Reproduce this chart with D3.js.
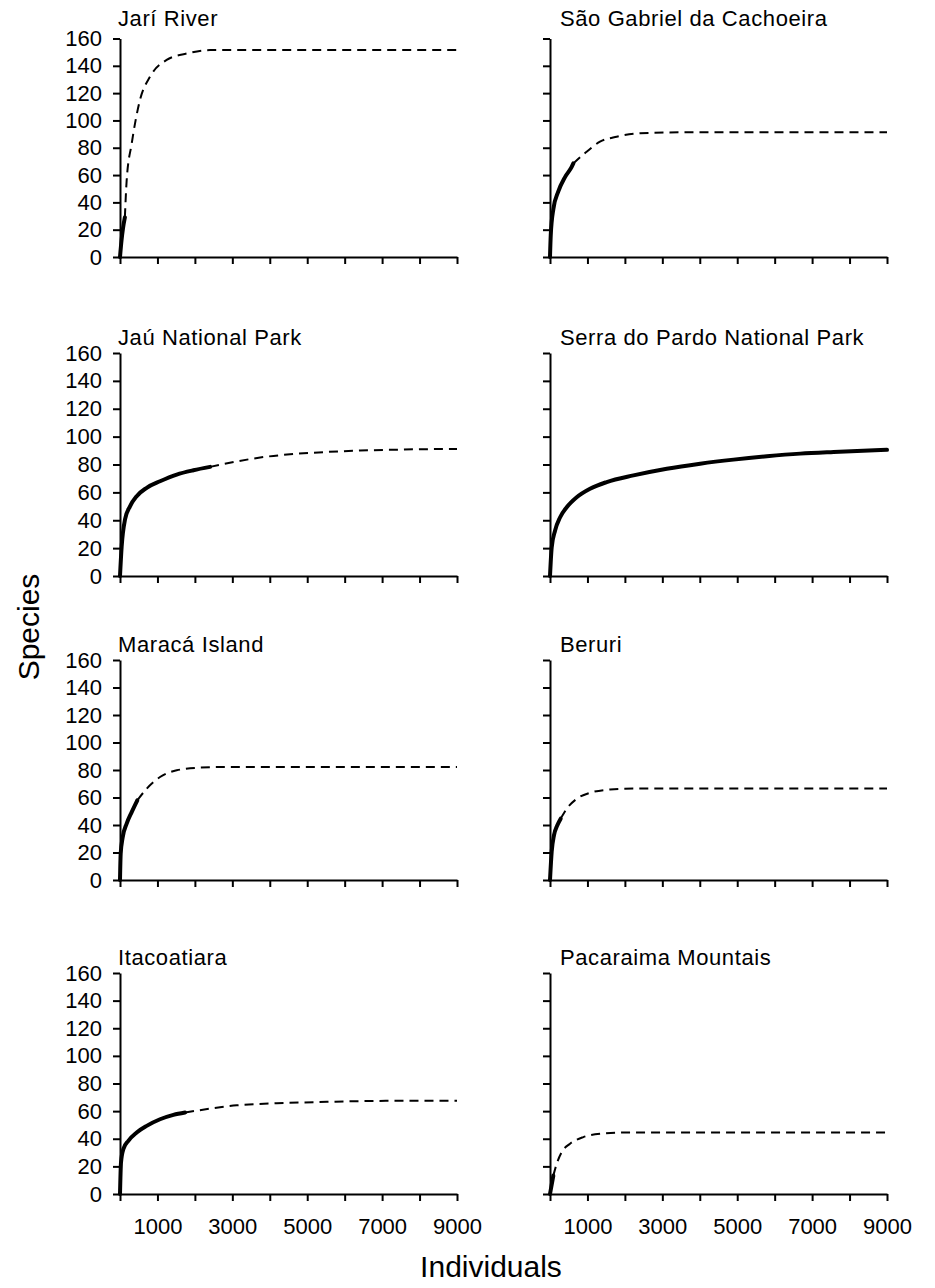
<!DOCTYPE html>
<html>
<head>
<meta charset="utf-8">
<script src="https://cdn.jsdelivr.net/npm/d3@7"></script>
<style>
  body { margin: 0; background: #fff; }
  svg text { font-family: "Liberation Sans", Arial, sans-serif; fill: #000; }
</style>
</head>
<body>
<div id="chart"></div>
<script>
// site names, in reading order (left col, right col, row by row)
var sites = ["Jarí River", "São Gabriel da Cachoeira",
             "Jaú National Park", "Serra do Pardo National Park",
             "Maracá Island", "Beruri",
             "Itacoatiara", "Pacaraima Mountais"];

// observed rarefaction curves [individuals, species] (solid)
var observed = [
  [[0,0],[40,12],[80,21],[130,29]],
  [[0,0],[20,16],[89,35],[222,48],[401,58.5],[579,66],[623,68.5]],
  [[0,0],[45,21.5],[134,40.6],[267,50],[446,57.3],[713,63.3],[1069,68],[1515,72.8],[1960,75.9],[2406,78.3]],
  [[0,0],[45,20.5],[134,32.5],[267,42],[446,49.3],[713,56.5],[1069,62.6],[1515,67.4],[2228,72.2],[3119,77],
   [4010,80.6],[4901,83.5],[5792,85.9],[6683,87.8],[7574,89],[9000,90.5]],
  [[0,0],[18,19],[71,31],[178,41],[312,49.4],[463,58]],
  [[0,0],[45,20.6],[107,32.6],[196,39.8],[285,44.6]],
  [[0,0],[27,22.9],[89,32.5],[223,38.5],[446,44.5],[713,49.3],[1069,54.1],[1426,57.3],[1738,59]],
  [[0,0],[89,13.3]]
];

// extrapolated curves (dashed), starting where the observed one stops
var extrapolated = [
  [[130,29],[178,56],[312,83],[534,115],[801,132],[1246,144.3],[1781,149],[2404,151.5],[3500,151.6],[9000,151.6]],
  [[623,68.5],[979,77.1],[1335,84.4],[1781,88.1],[2404,90.6],[3557,91.3],[9000,91.3]],
  [[2406,78.3],[3119,82.2],[3743,85],[4634,87.5],[5525,89],[6416,90],[7307,90.6],[8200,91],[9000,91.2]],
  [],
  [[463,58],[713,66.4],[1069,74.9],[1515,79.8],[2139,81.7],[2852,82.2],[9000,82.2]],
  [[285,44.6],[446,51.8],[713,59],[1069,63.4],[1604,65.8],[2228,66.5],[9000,66.5]],
  [[1738,59],[2406,61.8],[3119,64.2],[4188,65.7],[5525,66.7],[6861,67.4],[9000,67.6]],
  [[89,13.3],[178,21.8],[312,30.3],[535,36.4],[891,41.2],[1337,43.6],[2050,44.6],[9000,44.6]]
];

var yTicks = [0, 20, 40, 60, 80, 100, 120, 140, 160];
var xTicks = [0, 1000, 2000, 3000, 4000, 5000, 6000, 7000, 8000, 9000];
var xTickLabels = [1000, 3000, 5000, 7000, 9000];

var W = 935, H = 1288;
var colX = [120, 550];
var plotW = 337;
var rowTop = [38.5, 353, 660, 973];
var rowBottom = [257, 576, 880, 1194];
var titleBase = [26, 345, 652, 965];
var titleX = [118, 560];

var svg = d3.select("#chart").append("svg")
  .attr("width", W).attr("height", H);

sites.forEach(function(name, i) {
  var row = Math.floor(i / 2), col = i % 2;
  var x0 = colX[col];

  var x = d3.scaleLinear().domain([0, 9000]).range([x0, x0 + plotW]);
  var y = d3.scaleLinear().domain([0, 160]).range([rowBottom[row], rowTop[row]]);

  var g = svg.append("g");

  var line = d3.line()
    .x(function(d) { return x(d[0]); })
    .y(function(d) { return y(d[1]); })
    .curve(d3.curveMonotoneX);

  // y axis
  var ya = g.append("g")
    .attr("transform", "translate(" + x0 + ",0)")
    .call(d3.axisLeft(y).tickValues(yTicks).tickSize(7).tickSizeOuter(0).tickPadding(11)
      .tickFormat(function(d) { return col === 0 ? d : ""; }));

  // x axis
  var xa = g.append("g")
    .attr("transform", "translate(0," + rowBottom[row] + ")")
    .call(d3.axisBottom(x).tickValues(xTicks).tickSize(7).tickSizeOuter(0).tickPadding(17)
      .tickFormat(function(d) { return (row === 3 && xTickLabels.indexOf(d) >= 0) ? d : ""; }));

  [ya, xa].forEach(function(a) {
    a.select(".domain").attr("stroke", "#000").attr("stroke-width", 2);
    a.selectAll(".tick line").attr("stroke", "#000").attr("stroke-width", 2);
    a.selectAll(".tick text").attr("font-size", 22).attr("fill", "#000")
      .style("font-family", "'Liberation Sans', Arial, sans-serif");
  });

  if (extrapolated[i].length) {
    g.append("path")
      .datum(extrapolated[i])
      .attr("d", line)
      .attr("fill", "none")
      .attr("stroke", "#000")
      .attr("stroke-width", 2)
      .attr("stroke-dasharray", "9,6");
  }

  g.append("path")
    .datum(observed[i])
    .attr("d", line)
    .attr("fill", "none")
    .attr("stroke", "#000")
    .attr("stroke-width", 4)
    .attr("stroke-linecap", "round");

  g.append("text")
    .attr("x", titleX[col])
    .attr("y", titleBase[row])
    .attr("font-size", 22)
    .style("letter-spacing", "0.6px")
    .text(name);
});

// axis titles
svg.append("text")
  .attr("x", 491).attr("y", 1277)
  .attr("text-anchor", "middle")
  .attr("font-size", 30)
  .text("Individuals");

svg.append("text")
  .attr("transform", "translate(39,627) rotate(-90)")
  .attr("text-anchor", "middle")
  .attr("font-size", 30)
  .text("Species");
</script>
</body>
</html>
